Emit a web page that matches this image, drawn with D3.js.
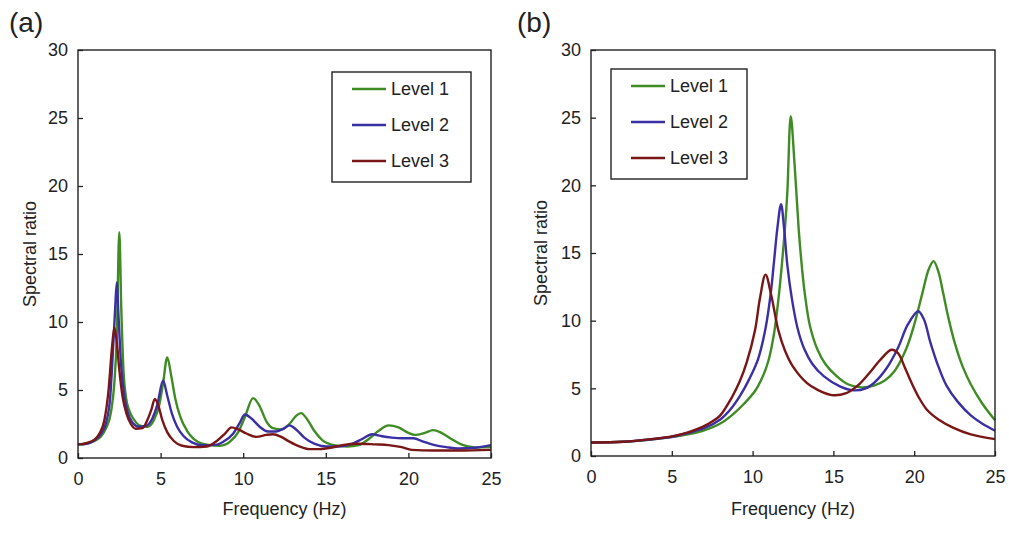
<!DOCTYPE html>
<html>
<head>
<meta charset="utf-8">
<script src="https://cdn.jsdelivr.net/npm/d3@7"></script>
<style>
  body { margin: 0; background: #fff; }
  text { font-family: "Liberation Sans", Arial, sans-serif; fill: #222; }
</style>
</head>
<body>
<div id="chart"></div>
<script>
// ---- data ----
const levels = ['Level 1', 'Level 2', 'Level 3']
const colors = ['#3f8c25', '#3a2fa3', '#7a1616']
const xTicks = [0, 5, 10, 15, 20, 25]
const yTicks = [0, 5, 10, 15, 20, 25, 30]

// panel (a)
const freqA1 = [0, 0.5, 1.0, 1.4, 1.7, 2.0, 2.2, 2.35, 2.5, 2.62, 2.75, 2.9, 3.1, 3.4, 3.8, 4.2, 4.6, 4.9, 5.15, 5.4, 5.65, 5.9, 6.2, 6.6, 7.0, 7.5, 8.0, 8.6, 9.2, 9.7, 10.1, 10.6, 11.0, 11.4, 11.8, 12.3, 12.8, 13.2, 13.5, 13.9, 14.3, 14.8, 15.5, 16.3, 17.0, 17.6, 18.2, 18.8, 19.4, 20.0, 20.4, 21.0, 21.5, 22.0, 22.6, 23.2, 24.0, 25]
const ratioA1 = [1.0, 1.05, 1.25, 1.6, 2.2, 3.4, 5.5, 9.0, 16.6, 11.0, 6.5, 4.5, 3.5, 2.8, 2.35, 2.3, 2.8, 3.8, 5.5, 7.4, 6.0, 4.3, 3.0, 2.0, 1.4, 1.05, 0.95, 0.9, 1.2, 1.9, 3.0, 4.4, 3.8, 2.7, 2.2, 2.1, 2.5, 3.1, 3.3, 2.8, 2.0, 1.3, 0.95, 0.85, 0.95, 1.4, 2.0, 2.4, 2.25, 1.85, 1.7, 1.85, 2.05, 1.85, 1.4, 1.0, 0.78, 0.8]
const freqA2 = [0, 0.5, 1.0, 1.4, 1.7, 1.95, 2.1, 2.25, 2.35, 2.45, 2.6, 2.8, 3.0, 3.3, 3.7, 4.1, 4.5, 4.8, 5.15, 5.4, 5.7, 6.0, 6.4, 6.9, 7.5, 8.2, 8.8, 9.4, 9.8, 10.1, 10.5, 11.0, 11.5, 12.0, 12.5, 12.8, 13.2, 13.7, 14.3, 15.0, 15.8, 16.5, 17.2, 17.8, 18.4, 19.0, 19.6, 20.3, 20.9, 21.6, 22.3, 23.0, 24.0, 25]
const ratioA2 = [1.0, 1.05, 1.3, 1.8, 2.6, 4.5, 7.5, 11.0, 12.9, 10.5, 7.0, 4.6, 3.4, 2.6, 2.3, 2.35, 2.9, 3.9, 5.7, 4.6, 3.2, 2.3, 1.6, 1.15, 0.95, 0.95, 1.2, 1.8, 2.6, 3.2, 2.9, 2.3, 1.95, 1.95, 2.2, 2.4, 2.1, 1.5, 1.05, 0.85, 0.85, 1.0, 1.4, 1.75, 1.6, 1.5, 1.45, 1.45, 1.2, 0.95, 0.8, 0.7, 0.75, 0.95]
const freqA3 = [0, 0.5, 1.0, 1.3, 1.6, 1.85, 2.05, 2.2, 2.35, 2.5, 2.7, 2.95, 3.2, 3.5, 3.9, 4.2, 4.45, 4.65, 4.85, 5.1, 5.4, 5.8, 6.3, 7.0, 7.8, 8.4, 8.9, 9.3, 9.7, 10.2, 10.8, 11.4, 11.8, 12.3, 12.8, 13.4, 14.0, 14.6, 15.3, 16.0, 17.0, 18.0, 18.8, 19.6, 20.2, 21.5, 23, 25]
const ratioA3 = [1.0, 1.1, 1.35, 1.8, 2.8, 5.0, 8.0, 9.6, 8.5, 6.5, 4.5, 3.2, 2.5, 2.15, 2.2, 2.8, 3.6, 4.35, 3.9, 2.8, 1.9, 1.25, 0.9, 0.8, 0.85, 1.25, 1.8, 2.25, 2.1, 1.8, 1.55, 1.7, 1.75, 1.55, 1.2, 0.85, 0.65, 0.65, 0.75, 0.95, 1.05, 1.0, 0.95, 0.8, 0.6, 0.55, 0.55, 0.6]

// panel (b)
const freqB1 = [0, 2, 4, 5, 6, 7, 8, 8.8, 9.5, 10.15, 10.6, 10.97, 11.32, 11.59, 11.8, 12.0, 12.15, 12.36, 12.6, 12.85, 13.04, 13.24, 13.55, 14.0, 14.5, 15.2, 15.9, 16.7, 17.5, 18.2, 18.8, 19.5, 20.0, 20.5, 20.9, 21.2, 21.5, 21.8, 22.1, 22.5, 23.0, 23.5, 24.2, 25]
const ratioB1 = [1.0, 1.05, 1.25, 1.4, 1.6, 1.9, 2.4, 3.1, 3.9, 4.8, 5.8, 7.0, 9.0, 11.5, 14.0, 16.8, 19.5, 25.1, 21.5, 16.8, 14.1, 11.9, 9.6, 7.9, 6.8, 5.9, 5.3, 5.07, 5.2, 5.6, 6.3, 7.9, 9.7, 12.0, 13.8, 14.4, 13.6, 12.0, 10.3, 8.4, 6.6, 5.3, 3.9, 2.65]
const freqB2 = [0, 2, 4, 5, 6, 7, 8.0, 8.6, 9.2, 9.8, 10.35, 10.81, 11.12, 11.32, 11.53, 11.76, 11.95, 12.15, 12.42, 12.77, 13.2, 13.7, 14.4, 15.4, 16.25, 17.0, 17.6, 18.3, 19.0, 19.6, 20.25, 20.6, 21.0, 21.5, 22.0, 22.7, 23.5, 24.2, 25]
const ratioB2 = [1.0, 1.05, 1.27, 1.42, 1.7, 2.05, 2.7, 3.4, 4.4, 5.7, 7.2, 9.5, 12.0, 14.3, 16.8, 18.6, 16.8, 14.1, 11.7, 9.5, 7.9, 6.8, 5.9, 5.15, 4.85, 5.0, 5.5, 6.5, 8.0, 9.7, 10.7, 10.1, 8.4, 6.6, 5.2, 4.0, 3.0, 2.4, 1.87]
const freqB3 = [0, 2, 4, 5, 6, 6.9, 7.5, 8.0, 8.7, 9.2, 9.63, 10.15, 10.46, 10.8, 11.15, 11.59, 12.0, 12.5, 13.35, 14.0, 14.9, 15.8, 16.5, 17.2, 17.9, 18.6, 19.0, 19.4, 19.8, 20.3, 20.8, 21.5, 22.4, 23.5, 25]
const ratioB3 = [1.0, 1.05, 1.28, 1.45, 1.75, 2.15, 2.55, 3.0, 4.3, 5.5, 6.9, 9.3, 11.7, 13.4, 11.9, 9.3, 7.8, 6.6, 5.4, 4.9, 4.5, 4.65, 5.2, 6.1, 7.1, 7.85, 7.6, 6.6, 5.5, 4.3, 3.4, 2.7, 2.1, 1.6, 1.25]

const svg = d3.select("#chart")
    .append("svg")
    .attr("width", 1009)
    .attr("height", 533)

function drawPanel(opt) {
    const x = d3.scaleLinear().domain([0, 25]).range([opt.left, opt.right])
    const y = d3.scaleLinear().domain([0, 30]).range([opt.bottom, opt.top])
    const g = svg.append("g")

    // panel letter
    g.append("text")
        .attr("x", opt.letterX)
        .attr("y", 32)
        .style("font-size", "28px")
        .text(opt.letter)

    // curves
    const line = d3.line()
        .x(d => x(d[0]))
        .y(d => y(d[1]))
        .curve(opt.curve)

    opt.series.forEach((s, i) => {
        g.append("path")
            .datum(d3.zip(s[0], s[1]))
            .attr("d", line)
            .attr("fill", "none")
            .attr("stroke", colors[i])
            .attr("stroke-width", 2.4)
            .attr("stroke-linejoin", "round")
    })

    // axes, ticks pointing inward
    const xAxis = g.append("g")
        .attr("transform", "translate(0," + opt.bottom + ")")
        .call(d3.axisBottom(x).tickValues(xTicks).tickSize(-5).tickPadding(14))
    const yAxis = g.append("g")
        .attr("transform", "translate(" + opt.left + ",0)")
        .call(d3.axisLeft(y).tickValues(yTicks).tickSize(-5).tickPadding(10))
    ;[xAxis, yAxis].forEach(a => {
        a.select(".domain").remove()
        a.selectAll("line").attr("stroke", "#222").attr("stroke-width", 1.3)
        a.selectAll("text")
            .style("font-size", "18px")
            .style("font-family", '"Liberation Sans", Arial, sans-serif')
            .attr("fill", "#222")
    })

    // frame
    g.append("rect")
        .attr("x", opt.left)
        .attr("y", opt.top)
        .attr("width", opt.right - opt.left)
        .attr("height", opt.bottom - opt.top)
        .attr("fill", "none")
        .attr("stroke", "#222")
        .attr("stroke-width", 1.4)

    // axis titles
    g.append("text")
        .attr("x", (opt.left + opt.right) / 2)
        .attr("y", 515)
        .attr("text-anchor", "middle")
        .style("font-size", "18px")
        .text("Frequency (Hz)")
    g.append("text")
        .attr("transform", "translate(" + opt.yTitleX + "," + (opt.top + opt.bottom) / 2 + ") rotate(-90)")
        .attr("text-anchor", "middle")
        .attr("dy", "0.35em")
        .style("font-size", "18px")
        .text("Spectral ratio")

    // legend box
    const lg = opt.legend
    g.append("rect")
        .attr("x", lg.x)
        .attr("y", lg.y)
        .attr("width", lg.w)
        .attr("height", lg.h)
        .attr("fill", "#fff")
        .attr("stroke", "#222")
        .attr("stroke-width", 1.4)

    levels.forEach((name, i) => {
        const yy = lg.y + 17 + i * 36
        g.append("line")
            .attr("x1", lg.x + 20)
            .attr("x2", lg.x + 54)
            .attr("y1", yy)
            .attr("y2", yy)
            .attr("stroke", colors[i])
            .attr("stroke-width", 2.4)
        g.append("text")
            .attr("x", lg.x + 59)
            .attr("y", yy)
            .attr("dy", "0.35em")
            .style("font-size", "18px")
            .text(name)
    })
}

drawPanel({
    letter: "(a)", letterX: 9,
    left: 78, right: 491, top: 50, bottom: 458, yTitleX: 30,
    legend: { x: 332, y: 72, w: 139, h: 110 },
    curve: d3.curveMonotoneX,
    series: [[freqA1, ratioA1], [freqA2, ratioA2], [freqA3, ratioA3]]
})

drawPanel({
    letter: "(b)", letterX: 517,
    left: 591, right: 995, top: 50, bottom: 456, yTitleX: 541,
    legend: { x: 611, y: 69, w: 136, h: 110 },
    curve: d3.curveCatmullRom.alpha(0.5),
    series: [[freqB1, ratioB1], [freqB2, ratioB2], [freqB3, ratioB3]]
})
</script>
</body>
</html>
